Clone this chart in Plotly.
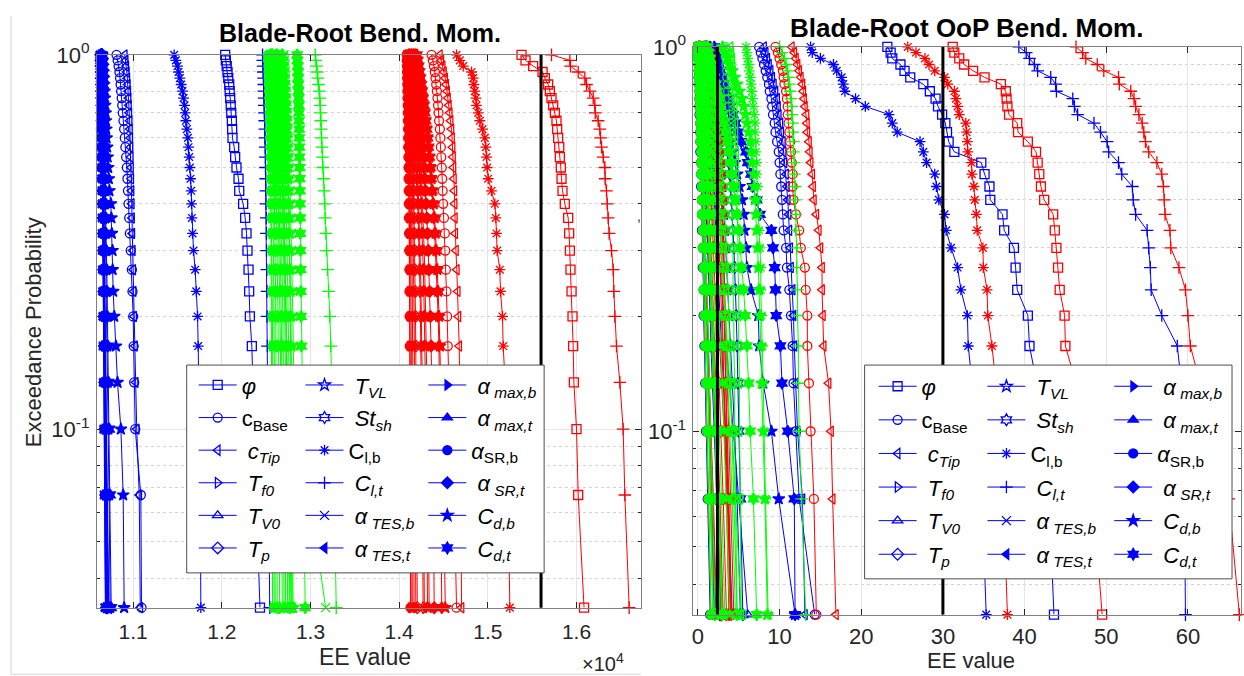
import math
import plotly.graph_objects as go

W, H = 1244, 676

# exceedance probability of the 30 ranked samples (k/30, k = 30..1)
PROB = [1.0, 0.96667, 0.93333, 0.9, 0.86667, 0.83333, 0.8, 0.76667, 0.73333, 0.7,
        0.66667, 0.63333, 0.6, 0.56667, 0.53333, 0.5, 0.46667, 0.43333, 0.4, 0.36667,
        0.33333, 0.3, 0.26667, 0.23333, 0.2, 0.16667, 0.13333, 0.1, 0.06667, 0.03333]

LABELS = [
    "<i>φ</i>", "c<sub>Base</sub>", "\u00a0<i>c</i><sub><i>Tip</i></sub>",
    "\u00a0<i>T</i><sub><i>f0</i></sub>", "\u00a0<i>T</i><sub><i>V0</i></sub>", "\u00a0<i>T</i><sub><i>p</i></sub>",
    "\u00a0<i>T</i><sub><i>VL</i></sub>", "\u00a0<i>St</i><sub><i>sh</i></sub>", "C<sub>l,b</sub>",
    "\u00a0<i>C</i><sub><i>l,t</i></sub>", "\u00a0<i>α</i><sub>\u00a0<i>TES,b</i></sub>", "\u00a0<i>α</i><sub>\u00a0<i>TES,t</i></sub>",
    "\u00a0<i>α</i><sub>\u00a0<i>max,b</i></sub>", "\u00a0<i>α</i><sub>\u00a0<i>max,t</i></sub>", "<i>α</i><sub>SR,b</sub>",
    "\u00a0<i>α</i><sub>\u00a0<i>SR,t</i></sub>", "\u00a0<i>C</i><sub><i>d,b</i></sub>", "\u00a0<i>C</i><sub><i>d,t</i></sub>",
]
SYMBOLS = ["square-open", "circle-open", "triangle-left-open", "triangle-right-open", "triangle-up-open",
           "diamond-open", "star-open", "hexagram-open", "asterisk-open", "cross-thin-open", "x-thin-open",
           "triangle-left", "triangle-right", "triangle-up", "circle", "diamond", "star", "hexagram"]

# ---------------- Left panel: Blade-Root Bend. Mom. ----------------
L_B_phi = [12038,12045,12055,12064,12072,12083,12088,12094,12100,12106,12113,12116,12120,12139,12150,12165,12188,12196,12240,12263,12278,12289,12301,12308,12316,12338,12350,12365,12385,12430]
L_B_cBase = [10812,10825,10835,10845,10852,10858,10864,10870,10876,10882,10890,10898,10905,10912,10920,10928,10935,10941,10947,10955,10962,10972,10985,10992,11000,11005,11011,11023,11086,11094]
L_B_cTip = [10905,10915,10922,10928,10934,10939,10944,10948,10952,10956,10960,10963,10966,10969,10972,10975,10978,10981,10984,10987,10990,10995,11000,11005,11010,11020,11028,11040,11068,11080]
L_B_Tf0 = [10632,10634,10636,10637,10639,10640,10641,10643,10644,10645,10646,10648,10649,10650,10651,10653,10654,10655,10657,10658,10660,10661,10663,10665,10667,10669,10672,10675,10680,10688]
L_B_TV0 = [10640,10642,10643,10645,10646,10648,10649,10650,10652,10653,10654,10656,10657,10658,10660,10661,10663,10664,10666,10667,10669,10671,10673,10676,10679,10683,10688,10694,10702,10725]
L_B_Tp = [10636,10638,10639,10641,10642,10643,10645,10646,10647,10648,10650,10651,10652,10653,10655,10656,10657,10659,10660,10662,10663,10665,10667,10669,10672,10675,10679,10684,10690,10700]
L_B_TVL = [10645,10647,10649,10651,10653,10655,10657,10659,10661,10663,10665,10667,10669,10671,10673,10675,10677,10679,10682,10685,10688,10691,10694,10698,10702,10707,10713,10720,10728,10740]
L_B_Stsh = [10638,10640,10641,10642,10644,10645,10646,10647,10649,10650,10651,10652,10653,10655,10656,10657,10658,10660,10661,10662,10664,10665,10667,10669,10671,10674,10677,10681,10687,10695]
L_B_Clb = [11462,11481,11500,11511,11526,11541,11556,11568,11579,11586,11594,11605,11617,11624,11632,11639,11647,11654,11658,11662,11669,11680,11699,11711,11726,11733,11741,11748,11756,11763]
L_B_Clt = [12459,12461,12466,12467,12470,12473,12474,12477,12479,12480,12483,12485,12486,12489,12491,12492,12495,12497,12498,12501,12503,12504,12507,12509,12510,12513,12516,12521,12527,12540]
L_B_aTESb = [10634,10636,10637,10638,10640,10641,10642,10643,10644,10646,10647,10648,10649,10650,10652,10653,10654,10655,10657,10658,10659,10661,10662,10664,10666,10668,10671,10674,10679,10686]
L_B_aTESt = [10642,10644,10646,10647,10648,10650,10651,10652,10654,10655,10656,10658,10659,10660,10662,10663,10664,10666,10667,10669,10671,10673,10675,10677,10680,10684,10689,10695,10703,10718]
L_B_amaxb = [10637,10639,10640,10642,10643,10644,10646,10647,10648,10649,10651,10652,10653,10654,10656,10657,10658,10660,10661,10663,10664,10666,10668,10670,10673,10676,10680,10685,10692,10705]
L_B_amaxt = [10641,10643,10645,10646,10648,10649,10650,10652,10653,10654,10656,10657,10658,10660,10661,10663,10664,10666,10668,10669,10671,10673,10676,10678,10682,10686,10691,10698,10708,10725]
L_B_aSRb = [10633,10635,10636,10638,10639,10640,10641,10642,10644,10645,10646,10647,10648,10650,10651,10652,10653,10655,10656,10657,10659,10660,10662,10664,10666,10668,10671,10675,10681,10690]
L_B_aSRt = [10639,10641,10642,10644,10645,10647,10648,10649,10651,10652,10653,10655,10656,10657,10659,10660,10661,10663,10664,10666,10668,10669,10671,10674,10677,10680,10684,10690,10698,10712]
L_B_Cdb = [10650,10655,10660,10665,10668,10672,10676,10680,10684,10688,10692,10696,10700,10706,10712,10718,10725,10732,10748,10754,10759,10767,10768,10774,10786,10805,10823,10861,10887,10898]
L_B_Cdt = [10648,10650,10652,10654,10656,10658,10660,10662,10664,10666,10668,10670,10672,10674,10677,10680,10683,10686,10689,10692,10695,10698,10702,10706,10710,10715,10722,10730,10740,10752]

L_G_phi = [12600,12608,12615,12620,12626,12631,12636,12641,12646,12650,12655,12660,12664,12668,12672,12677,12681,12686,12690,12695,12700,12706,12712,12718,12725,12732,12740,12750,12762,12780]
L_G_cBase = [12640,12645,12650,12654,12658,12662,12666,12670,12673,12676,12679,12682,12685,12688,12691,12694,12697,12700,12703,12706,12709,12712,12716,12720,12724,12729,12734,12740,12748,12760]
L_G_cTip = [12660,12666,12671,12676,12680,12684,12688,12692,12695,12698,12701,12704,12707,12710,12713,12716,12719,12722,12725,12728,12732,12736,12740,12744,12749,12754,12760,12767,12776,12790]
L_G_Tf0 = [12530,12532,12533,12535,12536,12537,12539,12540,12541,12542,12543,12545,12546,12547,12548,12549,12551,12552,12553,12554,12556,12557,12558,12560,12561,12563,12565,12567,12569,12572]
L_G_TV0 = [12540,12543,12545,12547,12549,12551,12553,12555,12557,12559,12561,12563,12565,12567,12569,12571,12573,12575,12577,12579,12581,12583,12585,12587,12589,12591,12593,12595,12598,12602]
L_G_Tp = [12550,12553,12556,12559,12561,12564,12566,12569,12571,12573,12576,12578,12580,12582,12585,12587,12589,12591,12594,12596,12598,12601,12603,12606,12608,12611,12614,12617,12620,12625]
L_G_TVL = [12570,12576,12581,12586,12590,12594,12598,12602,12606,12610,12614,12618,12622,12626,12630,12634,12638,12642,12646,12650,12654,12658,12662,12666,12670,12675,12680,12686,12693,12702]
L_G_Stsh = [12560,12564,12567,12570,12573,12576,12579,12582,12585,12588,12591,12594,12597,12600,12603,12606,12609,12612,12615,12618,12621,12624,12627,12630,12633,12636,12639,12643,12647,12652]
L_G_Clb = [12700,12704,12708,12711,12714,12717,12720,12723,12726,12729,12731,12734,12737,12740,12742,12745,12748,12751,12754,12757,12760,12763,12766,12769,12772,12775,12778,12782,12786,12792]
L_G_Clt = [13053,13060,13068,13075,13083,13090,13098,13105,13109,13113,13117,13120,13124,13128,13135,13139,13147,13154,13162,13165,13173,13180,13192,13203,13218,13229,13240,13252,13268,13290]
L_G_aTESb = [12700,12705,12710,12714,12718,12722,12726,12730,12734,12738,12742,12746,12750,12754,12758,12762,12766,12770,12774,12778,12782,12786,12790,12795,12800,12806,12812,12820,12990,13170]
L_G_aTESt = [12580,12584,12588,12591,12594,12597,12600,12603,12606,12609,12612,12615,12618,12621,12624,12627,12630,12633,12636,12639,12642,12645,12648,12652,12656,12660,12664,12669,12675,12682]
L_G_amaxb = [12590,12595,12600,12604,12608,12612,12616,12620,12624,12628,12632,12636,12640,12644,12648,12652,12656,12660,12664,12668,12672,12676,12680,12684,12688,12693,12698,12704,12711,12720]
L_G_amaxt = [12610,12615,12620,12625,12629,12633,12637,12641,12645,12649,12653,12657,12661,12665,12669,12673,12677,12681,12685,12689,12693,12697,12701,12705,12710,12715,12720,12726,12733,12742]
L_G_aSRb = [12520,12522,12525,12527,12529,12531,12533,12535,12537,12539,12541,12543,12545,12547,12549,12551,12553,12555,12557,12559,12561,12563,12565,12567,12570,12573,12576,12579,12583,12590]
L_G_aSRt = [12620,12625,12630,12635,12640,12645,12650,12654,12658,12662,12666,12670,12674,12678,12682,12686,12690,12694,12698,12702,12706,12710,12715,12720,12725,12730,12736,12743,12752,12768]
L_G_Cdb = [12680,12685,12690,12695,12699,12703,12707,12711,12715,12719,12723,12727,12731,12735,12739,12743,12747,12751,12755,12759,12763,12767,12771,12775,12779,12783,12787,12792,12797,12803]
L_G_Cdt = [12850,12853,12856,12858,12860,12862,12864,12866,12868,12869,12870,12872,12873,12875,12876,12878,12879,12881,12882,12884,12885,12887,12889,12891,12894,12897,12902,12910,12920,12940]

L_R_phi = [15380,15425,15511,15617,15643,15680,15699,15718,15737,15756,15774,15782,15793,15805,15812,15823,15831,15842,15868,15906,15917,15925,15932,15944,15955,15962,15970,16000,16019,16085]
L_R_cBase = [14365,14380,14392,14402,14410,14418,14425,14432,14438,14444,14450,14459,14465,14470,14475,14480,14485,14490,14496,14505,14515,14520,14526,14533,14541,14548,14560,14580,14620,14647]
L_R_cTip = [14459,14475,14490,14505,14518,14530,14540,14550,14560,14570,14580,14590,14596,14602,14607,14612,14617,14622,14625,14628,14632,14640,14650,14660,14668,14677,14683,14690,14697,14703]
L_R_Tf0 = [14090,14092,14093,14095,14096,14098,14099,14100,14102,14103,14104,14106,14107,14108,14110,14111,14112,14114,14115,14116,14118,14119,14121,14122,14124,14125,14127,14129,14131,14134]
L_R_TV0 = [14100,14103,14105,14107,14110,14112,14114,14116,14118,14120,14122,14124,14126,14128,14130,14132,14134,14136,14138,14140,14142,14144,14146,14148,14150,14153,14156,14159,14163,14168]
L_R_Tp = [14110,14114,14118,14121,14124,14127,14130,14133,14136,14139,14142,14145,14148,14151,14154,14157,14160,14163,14166,14169,14172,14175,14178,14181,14184,14187,14190,14194,14198,14204]
L_R_TVL = [14140,14146,14152,14158,14164,14170,14176,14182,14188,14194,14200,14206,14212,14218,14224,14230,14236,14242,14248,14254,14260,14266,14272,14278,14284,14290,14296,14302,14310,14320]
L_R_Stsh = [14120,14125,14130,14135,14140,14145,14150,14155,14160,14165,14170,14175,14180,14185,14190,14195,14200,14205,14210,14215,14220,14225,14230,14235,14240,14245,14250,14256,14262,14270]
L_R_Clb = [14647,14684,14722,14816,14835,14842,14853,14865,14872,14891,14910,14940,14966,14977,14985,14992,15004,15041,15079,15090,15098,15105,15135,15143,15165,15173,15195,15211,15229,15248]
L_R_Clt = [15718,15925,15932,16019,16094,16113,16150,16188,16207,16211,16244,16263,16271,16282,16301,16320,16323,16338,16346,16357,16368,16395,16414,16421,16432,16451,16489,16526,16545,16594]
L_R_aTESb = [14095,14097,14099,14100,14102,14104,14105,14107,14109,14110,14112,14113,14115,14117,14118,14120,14121,14123,14125,14126,14128,14130,14131,14133,14135,14137,14139,14141,14144,14148]
L_R_aTESt = [14130,14136,14141,14146,14151,14156,14161,14166,14171,14176,14181,14186,14191,14196,14201,14206,14211,14216,14221,14226,14231,14236,14241,14246,14251,14256,14262,14268,14275,14284]
L_R_amaxb = [14105,14108,14111,14114,14117,14120,14122,14125,14127,14130,14132,14135,14137,14140,14142,14145,14147,14150,14152,14155,14157,14160,14162,14165,14168,14171,14174,14178,14182,14188]
L_R_amaxt = [14150,14157,14164,14171,14178,14185,14192,14198,14204,14210,14216,14222,14228,14234,14240,14246,14252,14258,14264,14270,14276,14282,14288,14294,14300,14306,14313,14320,14328,14338]
L_R_aSRb = [14085,14086,14088,14089,14090,14092,14093,14094,14096,14097,14098,14100,14101,14102,14104,14105,14106,14108,14109,14110,14112,14113,14115,14116,14118,14119,14121,14123,14125,14128]
L_R_aSRt = [14160,14168,14176,14184,14192,14200,14208,14216,14224,14232,14240,14248,14256,14264,14272,14280,14288,14296,14304,14312,14320,14328,14336,14344,14352,14360,14368,14376,14385,14395]
L_R_Cdb = [14180,14190,14200,14210,14220,14232,14245,14258,14270,14282,14294,14306,14318,14327,14340,14352,14364,14376,14388,14400,14410,14420,14430,14440,14450,14459,14470,14485,14500,14520]
L_R_Cdt = [14200,14210,14220,14230,14240,14250,14260,14270,14280,14290,14300,14310,14320,14330,14340,14350,14360,14370,14380,14390,14400,14410,14420,14430,14440,14448,14455,14462,14470,14480]

# ---------------- Right panel: Blade-Root OoP Bend. Mom. ----------------
R_B_phi = [23.2,23.6,23.8,24.8,25.3,26.0,27.6,28.4,29.1,29.4,29.9,30.3,30.5,30.7,31.4,34.7,35.1,35.7,35.8,37.3,37.5,38.7,38.9,39.1,40.4,40.6,41.5,42.3,43.0,43.6]
R_B_cBase = [7.5,7.7,7.9,8.1,8.3,8.5,8.7,8.8,9.0,9.1,9.2,9.4,9.5,9.7,9.9,10.0,10.1,10.2,10.3,10.4,10.5,10.8,10.9,11.2,11.4,11.6,11.7,12.0,12.4,14.3]
R_B_cTip = [8.1,8.3,8.5,8.7,8.9,9.1,9.3,9.5,9.7,9.8,9.9,10.1,10.2,10.4,10.5,10.6,10.8,10.9,11.0,11.1,11.2,11.3,11.4,11.6,11.7,11.8,12.0,12.2,12.8,13.1]
R_B_Tf0 = [0.0,0.0,0.1,0.1,0.1,0.2,0.2,0.2,0.3,0.3,0.3,0.4,0.4,0.4,0.5,0.5,0.5,0.6,0.6,0.7,0.7,0.8,0.8,0.9,1.0,1.1,1.2,1.4,1.6,2.0]
R_B_TV0 = [0.3,0.4,0.5,0.6,0.7,0.8,0.9,1.0,1.1,1.2,1.3,1.4,1.5,1.6,1.7,1.8,1.9,2.0,2.1,2.2,2.3,2.5,2.7,2.9,3.2,3.5,3.9,4.4,5.0,6.1]
R_B_Tp = [0.1,0.1,0.2,0.2,0.3,0.3,0.4,0.4,0.5,0.5,0.6,0.6,0.7,0.7,0.8,0.8,0.9,0.9,1.0,1.0,1.1,1.2,1.3,1.4,1.5,1.6,1.8,2.0,2.3,2.7]
R_B_TVL = [1.0,1.2,1.3,1.5,1.6,1.8,1.9,2.0,2.1,2.2,2.3,2.4,2.5,2.6,2.7,2.8,2.9,3.0,3.1,3.2,3.3,3.4,3.5,3.6,3.8,4.0,4.2,4.5,4.8,5.2]
R_B_Stsh = [1.5,1.7,1.9,2.1,2.3,2.5,2.7,2.9,3.0,3.1,3.3,3.4,3.5,3.6,3.7,3.8,3.9,4.0,4.1,4.2,4.3,4.4,4.5,4.6,4.7,4.8,4.9,5.0,5.2,5.5]
R_B_Clb = [13.8,14.0,15.0,16.6,17.0,17.6,17.8,18.0,19.3,20.5,23.4,23.8,24.4,27.2,27.6,28.0,29.0,29.2,29.5,30.2,30.4,31.0,31.8,32.2,33.0,33.1,33.6,34.2,34.8,35.3]
R_B_Clt = [39.3,40.2,40.6,41.2,41.6,43.2,43.8,43.9,45.9,46.1,46.5,48.5,49.3,50.1,50.3,51.5,51.9,53.2,53.3,53.6,55.0,55.2,55.4,55.5,56.8,58.7,59.2,59.5,59.6,59.7]
R_B_aTESb = [0.0,0.1,0.1,0.2,0.2,0.2,0.3,0.3,0.3,0.4,0.4,0.5,0.5,0.5,0.6,0.6,0.7,0.7,0.8,0.8,0.9,0.9,1.0,1.1,1.2,1.3,1.4,1.6,1.8,2.2]
R_B_aTESt = [0.2,0.3,0.3,0.4,0.4,0.5,0.5,0.6,0.6,0.7,0.7,0.8,0.8,0.9,0.9,1.0,1.0,1.1,1.2,1.2,1.3,1.4,1.5,1.6,1.7,1.9,2.1,2.3,2.6,3.0]
R_B_amaxb = [0.1,0.2,0.2,0.3,0.3,0.4,0.4,0.5,0.5,0.6,0.6,0.7,0.7,0.8,0.8,0.9,0.9,1.0,1.1,1.1,1.2,1.3,1.4,1.5,1.6,1.7,1.9,2.1,2.4,2.8]
R_B_amaxt = [0.4,0.5,0.6,0.7,0.8,0.9,1.0,1.0,1.1,1.2,1.3,1.4,1.5,1.5,1.6,1.7,1.8,1.9,2.0,2.1,2.2,2.3,2.4,2.5,2.7,2.9,3.1,3.4,3.7,4.2]
R_B_aSRb = [0.0,0.0,0.0,0.1,0.1,0.1,0.1,0.2,0.2,0.2,0.2,0.3,0.3,0.3,0.3,0.4,0.4,0.4,0.5,0.5,0.5,0.6,0.6,0.7,0.7,0.8,0.9,1.0,1.2,1.5]
R_B_aSRt = [0.2,0.2,0.3,0.3,0.4,0.4,0.5,0.5,0.6,0.6,0.7,0.7,0.8,0.8,0.9,0.9,1.0,1.1,1.1,1.2,1.3,1.4,1.5,1.6,1.7,1.8,2.0,2.2,2.5,2.9]
R_B_Cdb = [1.0,1.2,1.4,1.6,1.8,2.0,2.2,2.4,2.6,2.8,3.0,3.3,3.6,3.9,4.2,4.5,4.8,5.1,5.4,5.6,5.7,5.9,6.0,6.5,7.4,7.5,8.0,9.0,9.9,11.9]
R_B_Cdt = [2.0,2.2,2.4,2.6,2.8,3.0,3.2,3.4,3.7,4.0,4.3,4.6,4.9,5.3,5.9,6.1,6.5,6.7,7.2,7.6,9.0,9.2,9.4,9.5,9.6,10.1,10.3,11.0,11.8,11.9]

R_G_phi = [0.5,0.6,0.8,0.9,1.0,1.1,1.2,1.3,1.4,1.5,1.6,1.7,1.8,1.9,2.0,2.1,2.2,2.3,2.4,2.5,2.6,2.8,3.0,3.2,3.4,3.6,3.9,4.2,4.6,5.3]
R_G_cBase = [3.3,3.4,3.5,3.5,3.6,3.6,3.7,3.7,3.8,3.8,3.9,3.9,4.0,4.0,4.0,4.1,4.1,4.1,4.2,4.2,4.2,4.3,4.3,4.3,4.4,4.4,4.5,4.5,4.6,4.8]
R_G_cTip = [4.0,4.1,4.2,4.2,4.3,4.3,4.4,4.4,4.5,4.5,4.5,4.6,4.6,4.6,4.7,4.7,4.7,4.8,4.8,4.8,4.9,4.9,4.9,5.0,5.0,5.0,5.1,5.1,5.2,5.3]
R_G_Tf0 = [0.0,0.0,0.1,0.1,0.1,0.2,0.2,0.2,0.3,0.3,0.3,0.4,0.4,0.4,0.5,0.5,0.5,0.6,0.6,0.7,0.7,0.8,0.8,0.9,1.0,1.1,1.2,1.3,1.5,1.8]
R_G_TV0 = [0.2,0.3,0.3,0.4,0.4,0.5,0.5,0.6,0.6,0.7,0.7,0.8,0.8,0.9,0.9,1.0,1.0,1.1,1.2,1.2,1.3,1.4,1.5,1.6,1.7,1.8,2.0,2.2,2.5,2.9]
R_G_Tp = [0.1,0.1,0.2,0.2,0.2,0.3,0.3,0.3,0.4,0.4,0.4,0.5,0.5,0.6,0.6,0.6,0.7,0.7,0.8,0.8,0.9,0.9,1.0,1.1,1.2,1.3,1.4,1.6,1.8,2.1]
R_G_TVL = [0.8,0.9,1.0,1.1,1.2,1.3,1.4,1.5,1.6,1.7,1.8,1.9,2.0,2.1,2.2,2.3,2.4,2.5,2.6,2.7,2.8,2.9,3.0,3.1,3.3,3.5,3.7,3.9,4.2,4.6]
R_G_Stsh = [1.2,1.3,1.5,1.6,1.8,1.9,2.0,2.1,2.2,2.3,2.4,2.5,2.6,2.7,2.8,2.9,3.0,3.1,3.2,3.3,3.4,3.5,3.6,3.7,3.8,3.9,4.0,4.2,4.4,4.8]
R_G_Clb = [5.9,6.0,6.1,6.2,6.3,6.4,6.5,6.6,6.7,6.8,6.9,7.0,7.0,7.1,7.1,7.2,7.2,7.3,7.3,7.4,7.5,7.6,7.7,7.7,7.8,7.9,8.0,8.1,8.3,8.6]
R_G_Clt = [10.0,10.3,10.6,10.8,11.0,11.1,11.2,11.3,11.4,11.5,11.5,11.6,11.6,11.7,11.7,11.8,11.8,11.9,11.9,12.0,12.0,12.1,12.1,12.2,12.2,12.3,12.3,12.4,12.7,13.2]
R_G_aTESb = [0.0,0.1,0.1,0.1,0.2,0.2,0.2,0.3,0.3,0.3,0.4,0.4,0.4,0.5,0.5,0.5,0.6,0.6,0.7,0.7,0.8,0.8,0.9,0.9,1.0,1.1,1.2,1.4,1.6,1.9]
R_G_aTESt = [0.3,0.4,0.4,0.5,0.6,0.6,0.7,0.7,0.8,0.9,0.9,1.0,1.1,1.1,1.2,1.3,1.3,1.4,1.5,1.6,1.7,1.8,1.9,2.0,2.1,2.2,2.4,2.6,2.9,3.3]
R_G_amaxb = [0.2,0.2,0.3,0.3,0.4,0.4,0.5,0.5,0.6,0.6,0.7,0.7,0.8,0.8,0.9,0.9,1.0,1.0,1.1,1.2,1.3,1.3,1.4,1.5,1.6,1.7,1.9,2.1,2.3,2.7]
R_G_amaxt = [0.4,0.5,0.6,0.7,0.7,0.8,0.9,1.0,1.0,1.1,1.2,1.3,1.3,1.4,1.5,1.6,1.7,1.8,1.9,2.0,2.1,2.2,2.3,2.4,2.6,2.8,3.0,3.2,3.5,3.9]
R_G_aSRb = [0.0,0.0,0.0,0.1,0.1,0.1,0.1,0.2,0.2,0.2,0.3,0.3,0.3,0.3,0.4,0.4,0.4,0.5,0.5,0.5,0.6,0.6,0.7,0.7,0.8,0.9,1.0,1.1,1.3,1.6]
R_G_aSRt = [0.2,0.3,0.3,0.4,0.4,0.5,0.5,0.6,0.6,0.7,0.7,0.8,0.9,0.9,1.0,1.0,1.1,1.2,1.2,1.3,1.4,1.5,1.6,1.7,1.8,1.9,2.1,2.3,2.6,3.0]
R_G_Cdb = [3.0,3.3,3.6,3.9,4.2,4.5,4.8,5.1,5.4,5.6,5.8,6.0,6.2,6.4,6.5,6.6,6.8,6.9,7.0,7.1,7.2,7.3,7.4,7.5,7.6,7.7,7.8,8.0,8.2,8.5]
R_G_Cdt = [1.0,1.2,1.4,1.6,1.8,2.0,2.2,2.4,2.6,2.8,3.0,3.2,3.4,3.6,3.8,4.0,4.2,4.4,4.6,4.8,5.0,5.2,5.4,5.6,5.8,6.0,6.2,6.4,6.8,7.2]

R_R_phi = [31.2,31.4,32.0,32.6,33.7,35.1,37.1,37.7,37.8,37.9,38.1,39.1,39.2,40.4,41.4,41.6,41.8,42.0,42.4,43.5,43.7,43.9,44.1,44.3,44.9,45.0,46.3,47.3,48.4,49.5]
R_R_cBase = [9.5,9.8,10.0,10.2,10.4,10.5,10.6,10.8,10.9,11.0,11.0,11.1,11.2,11.3,11.4,11.5,11.6,11.6,11.7,12.0,12.4,12.6,13.1,13.2,13.4,13.4,13.6,13.8,14.2,14.5]
R_R_cTip = [11.5,11.8,12.0,12.2,12.4,12.6,12.8,12.9,13.0,13.1,13.3,13.35,13.4,13.6,13.7,13.8,14.0,14.1,14.2,14.5,14.8,15.0,15.2,15.2,15.3,15.4,16.0,16.3,16.5,16.9]
R_R_Tf0 = [0.0,0.1,0.1,0.1,0.2,0.2,0.2,0.3,0.3,0.3,0.4,0.4,0.4,0.5,0.5,0.6,0.6,0.7,0.7,0.8,0.8,0.9,1.0,1.0,1.1,1.2,1.4,1.6,1.9,2.3]
R_R_TV0 = [0.3,0.4,0.5,0.6,0.6,0.7,0.8,0.9,0.9,1.0,1.1,1.2,1.2,1.3,1.4,1.5,1.6,1.7,1.8,1.9,2.0,2.1,2.2,2.4,2.5,2.7,2.9,3.2,3.6,4.1]
R_R_Tp = [0.1,0.2,0.2,0.3,0.3,0.4,0.4,0.5,0.5,0.6,0.6,0.7,0.7,0.8,0.8,0.9,0.9,1.0,1.1,1.1,1.2,1.3,1.4,1.5,1.6,1.7,1.9,2.1,2.4,2.8]
R_R_TVL = [1.2,1.4,1.5,1.7,1.8,1.9,2.0,2.1,2.2,2.3,2.4,2.5,2.6,2.6,2.7,2.8,2.8,2.9,3.0,3.0,3.1,3.2,3.2,3.3,3.4,3.5,3.6,3.8,4.0,4.4]
R_R_Stsh = [1.0,1.2,1.3,1.4,1.6,1.7,1.8,1.9,2.0,2.1,2.2,2.3,2.4,2.5,2.6,2.6,2.7,2.8,2.9,2.9,3.0,3.0,3.1,3.2,3.2,3.3,3.4,3.6,3.8,4.1]
R_R_Clb = [25.7,26.7,27.8,28.3,29.0,30.2,30.6,31.4,31.6,31.8,32.0,32.8,32.9,33.0,33.05,33.5,33.55,33.8,33.9,34.1,34.2,34.9,34.95,35.4,35.5,36.0,36.5,37.0,37.4,37.9]
R_R_Clt = [46.3,47.1,47.5,48.9,49.7,51.5,51.6,53.0,53.4,53.6,54.0,54.4,54.6,54.8,55.2,56.2,56.8,57.0,57.1,57.2,57.8,57.9,58.9,59.7,60.0,60.3,61.5,63.0,65.0,66.3]
R_R_aTESb = [0.0,0.0,0.1,0.1,0.1,0.2,0.2,0.2,0.3,0.3,0.3,0.4,0.4,0.5,0.5,0.5,0.6,0.6,0.7,0.7,0.8,0.8,0.9,1.0,1.1,1.2,1.3,1.5,1.7,2.1]
R_R_aTESt = [0.2,0.3,0.3,0.4,0.5,0.5,0.6,0.6,0.7,0.8,0.8,0.9,0.9,1.0,1.1,1.1,1.2,1.3,1.3,1.4,1.5,1.6,1.7,1.8,1.9,2.0,2.2,2.4,2.7,3.1]
R_R_amaxb = [0.1,0.2,0.3,0.3,0.4,0.4,0.5,0.5,0.6,0.6,0.7,0.7,0.8,0.9,0.9,1.0,1.0,1.1,1.2,1.2,1.3,1.4,1.5,1.6,1.7,1.8,2.0,2.2,2.5,2.9]
R_R_amaxt = [0.5,0.6,0.7,0.8,0.9,1.0,1.1,1.2,1.3,1.4,1.5,1.6,1.7,1.8,1.9,2.0,2.1,2.2,2.3,2.4,2.5,2.6,2.7,2.8,2.9,3.0,3.2,3.4,3.7,4.0]
R_R_aSRb = [0.0,0.0,0.1,0.1,0.1,0.1,0.2,0.2,0.2,0.2,0.3,0.3,0.3,0.4,0.4,0.4,0.5,0.5,0.5,0.6,0.6,0.7,0.7,0.8,0.8,0.9,1.0,1.1,1.3,1.6]
R_R_aSRt = [0.3,0.4,0.4,0.5,0.6,0.6,0.7,0.8,0.8,0.9,1.0,1.0,1.1,1.2,1.2,1.3,1.4,1.5,1.6,1.7,1.8,1.9,2.0,2.1,2.2,2.4,2.6,2.8,3.1,3.5]
R_R_Cdb = [0.8,1.0,1.2,1.4,1.5,1.7,1.8,1.9,2.0,2.1,2.2,2.3,2.4,2.5,2.6,2.7,2.8,2.9,3.0,3.0,3.1,3.1,3.2,3.2,3.3,3.3,3.4,3.5,3.7,3.9]
R_R_Cdt = [0.6,0.8,1.0,1.1,1.3,1.4,1.5,1.6,1.7,1.8,1.9,2.0,2.1,2.2,2.3,2.4,2.5,2.6,2.6,2.7,2.8,2.8,2.9,3.0,3.0,3.1,3.2,3.3,3.5,3.8]

# reference lines (black)
L_REF_LINES = [15600]
R_REF_LINES = [2.4, 30]

L_TICKS = [11000, 12000, 13000, 14000, 15000, 16000]
L_TICKTEXT = ["1.1", "1.2", "1.3", "1.4", "1.5", "1.6"]
R_TICKS = [0, 10, 20, 30, 40, 50, 60]
R_TICKTEXT = ["0", "10", "20", "30", "40", "50", "60"]

LEFT = {
    "b": [L_B_phi, L_B_cBase, L_B_cTip, L_B_Tf0, L_B_TV0, L_B_Tp, L_B_TVL, L_B_Stsh, L_B_Clb, L_B_Clt,
          L_B_aTESb, L_B_aTESt, L_B_amaxb, L_B_amaxt, L_B_aSRb, L_B_aSRt, L_B_Cdb, L_B_Cdt],
    "r": [L_R_phi, L_R_cBase, L_R_cTip, L_R_Tf0, L_R_TV0, L_R_Tp, L_R_TVL, L_R_Stsh, L_R_Clb, L_R_Clt,
          L_R_aTESb, L_R_aTESt, L_R_amaxb, L_R_amaxt, L_R_aSRb, L_R_aSRt, L_R_Cdb, L_R_Cdt],
    "g": [L_G_phi, L_G_cBase, L_G_cTip, L_G_Tf0, L_G_TV0, L_G_Tp, L_G_TVL, L_G_Stsh, L_G_Clb, L_G_Clt,
          L_G_aTESb, L_G_aTESt, L_G_amaxb, L_G_amaxt, L_G_aSRb, L_G_aSRt, L_G_Cdb, L_G_Cdt],
}
RIGHT = {
    "b": [R_B_phi, R_B_cBase, R_B_cTip, R_B_Tf0, R_B_TV0, R_B_Tp, R_B_TVL, R_B_Stsh, R_B_Clb, R_B_Clt,
          R_B_aTESb, R_B_aTESt, R_B_amaxb, R_B_amaxt, R_B_aSRb, R_B_aSRt, R_B_Cdb, R_B_Cdt],
    "r": [R_R_phi, R_R_cBase, R_R_cTip, R_R_Tf0, R_R_TV0, R_R_Tp, R_R_TVL, R_R_Stsh, R_R_Clb, R_R_Clt,
          R_R_aTESb, R_R_aTESt, R_R_amaxb, R_R_amaxt, R_R_aSRb, R_R_aSRt, R_R_Cdb, R_R_Cdt],
    "g": [R_G_phi, R_G_cBase, R_G_cTip, R_G_Tf0, R_G_TV0, R_G_Tp, R_G_TVL, R_G_Stsh, R_G_Clb, R_G_Clt,
          R_G_aTESb, R_G_aTESt, R_G_amaxb, R_G_amaxt, R_G_aSRb, R_G_aSRt, R_G_Cdb, R_G_Cdt],
}
COLORS = {"b": "#0000ff", "r": "#ff0000", "g": "#00ff00"}

FONT = "Liberation Sans, Arial, Helvetica, sans-serif"
AX = "#262626"


def px_x(p):
    return p / W


def ry(p):
    # target pixel row (as photographed) -> figure pixel row
    return (p - 10.9) / 0.982


def px_y(p):
    return 1 - ry(p) / H


fig = go.Figure()

panels = [
    ("x", "y", LEFT, ["legend", "legend2", "legend3"], "L"),
    ("x2", "y2", RIGHT, ["legend4", "legend5", "legend6"], "R"),
]
for xa, ya, data, legs, tag in panels:
    for c in ["b", "r", "g"]:
        for i, vals in enumerate(data[c]):
            if c == "b":
                kw = dict(showlegend=True, legend=legs[i // 6], legendgroup=f"{tag}{i}")
            else:
                kw = dict(showlegend=False)
            fig.add_trace(go.Scatter(
                x=vals, y=PROB, xaxis=xa, yaxis=ya, mode="lines+markers", name=LABELS[i],
                line=dict(color=COLORS[c], width=1),
                marker=dict(symbol=SYMBOLS[i], size=9, color=COLORS[c],
                            line=dict(color=COLORS[c], width=1.3)),
                cliponaxis=False, hoverinfo="skip", **kw))

MINOR = [0.04, 0.05, 0.06, 0.07, 0.08, 0.09, 0.2, 0.3, 0.4, 0.5, 0.6, 0.7, 0.8, 0.9]


def xcfg(dom, rng, tv, tt, fs, anchor, standoff):
    return dict(domain=dom, range=rng, tickmode="array", tickvals=tv, ticktext=tt,
                showline=True, linecolor="#808080", linewidth=1, mirror="ticks",
                ticks="inside", ticklen=6, tickcolor=AX, showgrid=True, gridcolor="#e6e6e6",
                zeroline=False, tickfont=dict(family=FONT, size=fs, color=AX), anchor=anchor,
                ticklabelstandoff=standoff)


def ycfg(dom, fs, anchor):
    return dict(type="log", domain=dom, range=[math.log10(PROB[-1]), 0], tickmode="array",
                tickvals=[0.1, 1], ticktext=["10<sup>-1</sup>", "10<sup>0</sup>"],
                showline=True, linecolor="#808080", linewidth=1, mirror="ticks",
                ticks="inside", ticklen=6, tickcolor=AX, showgrid=True, gridcolor="#e6e6e6",
                zeroline=False, tickfont=dict(family=FONT, size=fs, color=AX), anchor=anchor,
                ticklabelstandoff=2,
                minor=dict(tickvals=MINOR, ticks="inside", ticklen=3, tickcolor=AX,
                           showgrid=True, gridcolor="#d4d4d4", griddash="dot"))


L_DOM_X = [px_x(95), px_x(640)]
L_DOM_Y = [px_y(606), px_y(50)]
R_DOM_X = [px_x(692.6), px_x(1241)]
R_DOM_Y = [px_y(613), px_y(42)]


def legend_cfg(xpx, ypx, gap, fs):
    return dict(x=px_x(xpx), y=1 - ypx / H, xanchor="left", yanchor="top",
                bgcolor="rgba(0,0,0,0)", borderwidth=0, orientation="v",
                traceorder="grouped", tracegroupgap=gap, itemwidth=38,
                font=dict(family=FONT, size=fs, color="black"))


shapes = []
# light frame of the left figure window
for (x0, y0, x1, y1) in [(9, 11, 9, 673), (9, 673, 640, 673)]:
    shapes.append(dict(type="line", xref="paper", yref="paper", x0=px_x(x0), y0=px_y(y0),
                       x1=px_x(x1), y1=px_y(y1), line=dict(color="#e3e3e3", width=1.5)))
for v in L_REF_LINES:
    shapes.append(dict(type="line", xref="x", yref="y domain", x0=v, x1=v, y0=0, y1=1,
                       line=dict(color="black", width=3), layer="above"))
for v in R_REF_LINES:
    shapes.append(dict(type="line", xref="x2", yref="y2 domain", x0=v, x1=v, y0=0, y1=1,
                       line=dict(color="black", width=3), layer="above"))
# legend boxes
for (x0, y0, x1, y1) in [(185, 362, 543, 571), (864, 362, 1232, 577)]:
    shapes.append(dict(type="rect", xref="paper", yref="paper", x0=px_x(x0), y0=px_y(y1),
                       x1=px_x(x1), y1=px_y(y0), fillcolor="white",
                       line=dict(color="#4d4d4d", width=1), layer="above"))


def ann(text, x, y, size, angle=0, color="black"):
    return dict(text=text, x=px_x(x), y=px_y(y), xref="paper", yref="paper", showarrow=False,
                xanchor="center", yanchor="middle", textangle=angle,
                font=dict(family=FONT, size=size, color=color))


annotations = [
    ann("<b>Blade-Root Bend. Mom.</b>", 359, 28, 25),
    ann("<b>Blade-Root OoP Bend. Mom.</b>", 966, 23, 26),
    ann("EE value", 364, 656, 23, color=AX),
    ann("EE value", 971, 659, 22, color=AX),
    ann("×10<sup>4</sup>", 602, 661, 20, color=AX),
    ann("Exceedance Probability", 31, 329, 22, angle=-90, color=AX),
    ann(",", 638, 212, 14, color=AX),
]

# legend tops in figure pixels (first row centre sits ~21 px below the top)
L_LEG_TOP = ry(381.7) - 21
R_LEG_TOP = ry(383) - 21

fig.update_layout(
    width=W, height=H, margin=dict(l=0, r=0, t=0, b=0),
    paper_bgcolor="white", plot_bgcolor="white",
    xaxis=xcfg(L_DOM_X, [10590, 16727], L_TICKS, L_TICKTEXT, 21, "y", 5),
    yaxis=ycfg(L_DOM_Y, 22, "x"),
    xaxis2=xcfg(R_DOM_X, [-0.54, 66.5], R_TICKS, R_TICKTEXT, 22, "y2", 2),
    yaxis2=ycfg(R_DOM_Y, 22, "x2"),
    legend=legend_cfg(192, L_LEG_TOP, 1, 22),
    legend2=legend_cfg(299, L_LEG_TOP, 1, 22),
    legend3=legend_cfg(422, L_LEG_TOP, 1, 22),
    legend4=legend_cfg(873, R_LEG_TOP, 2, 22),
    legend5=legend_cfg(982, R_LEG_TOP, 2, 22),
    legend6=legend_cfg(1109, R_LEG_TOP, 2, 22),
    shapes=shapes, annotations=annotations, showlegend=True,
)

fig.write_html("out.html")
